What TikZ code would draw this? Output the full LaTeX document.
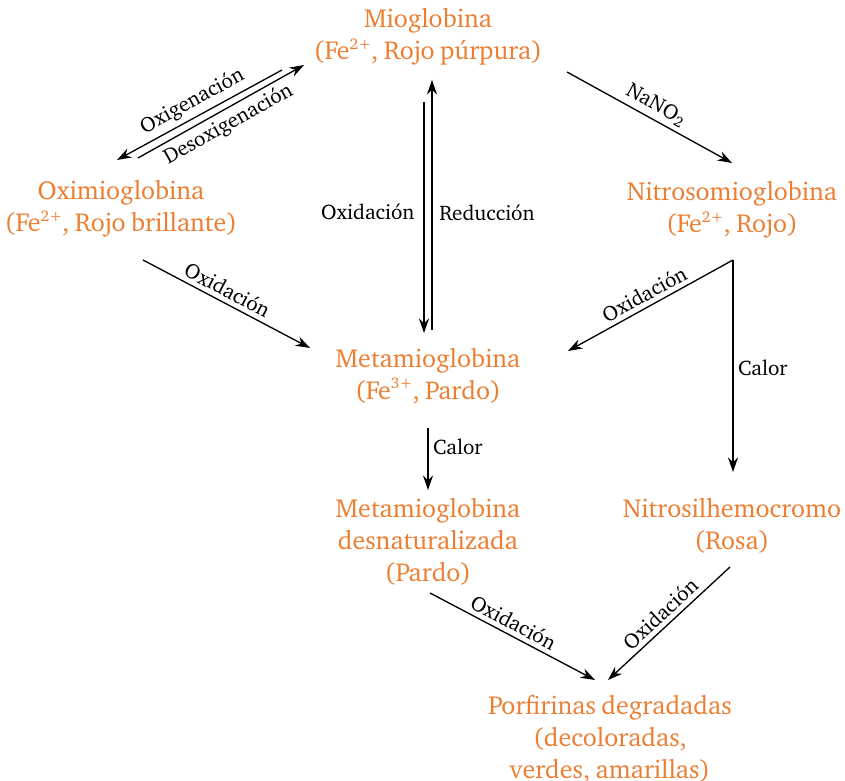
\documentclass[tikz,border=0pt]{standalone}
\usepackage[T1]{fontenc}
\usepackage{charter}
\usepackage{tikz}
\usetikzlibrary{arrows.meta}
\definecolor{naranja}{RGB}{237,125,49}
\newcommand{\carga}[1]{\raisebox{0.85ex}{\fontsize{7}{7}\selectfont #1}}
\newcommand{\fuenteesp}{\fontsize{11.7}{14.4}\selectfont\spaceskip=0.21em plus 0.1em minus 0.05em\relax}

\begin{document}
\begin{tikzpicture}[x=0.45pt,y=-0.45pt,line width=0.6pt,
    >={Stealth[length=6.5pt,width=4.5pt]},
    especie/.style={text=naranja,align=center,font=\fuenteesp},
    etiq/.style={font=\fontsize{9.5}{11}\selectfont,inner sep=2pt}]
    \useasboundingbox (0,0) rectangle (845,781);
    % especies
    \node[especie] (mio) at (428,37) {Mioglobina\\(Fe\carga{2+}, Rojo p\'urpura)};
    \node[especie] (oxi) at (121,209) {Oximioglobina\\(Fe\carga{2+}, Rojo brillante)};
    \node[especie] (nitro) at (732,210) {Nitrosomioglobina\\(Fe\carga{2+}, Rojo)};
    \node[especie] (meta) at (428,376) {Metamioglobina\\(Fe\carga{3+}, Pardo)};
    \node[especie] (desn) at (428,542) {Metamioglobina\\desnaturalizada\\(Pardo)};
    \node[especie] (nitrosil) at (732,526) {Nitrosilhemocromo\\(Rosa)};
    \node[especie] (porf) at (610,739) {Porfirinas degradadas\\(decoloradas,\\verdes, amarillas)};
    % oxigenacion
    \draw[<-] ([shift={(-4,-49)}]oxi.center) -- node[etiq,sloped,above] {Oxigenaci\'on} ([shift={(-146,33)}]mio.center);
    \draw[->] ([shift={(17,-51)}]oxi.center) -- node[etiq,sloped,below] {Desoxigenaci\'on} ([shift={(-124,28)}]mio.center);
    % oxidacion / reduccion
    \draw[->] ([shift={(-4,65)}]mio.center) -- node[etiq,left=2pt,pos=0.476] {Oxidaci\'on} ([shift={(-4,-43)}]meta.center);
    \draw[->] ([shift={(4,-46)}]meta.center) -- node[etiq,right=1pt,pos=0.47] {Reducci\'on} ([shift={(4,43)}]mio.center);
    \draw[->] ([shift={(139,35)}]mio.center) -- node[etiq,sloped,above] {NaNO\textsubscript{2}} ([shift={(0,-47)}]nitro.center);
    \draw[->] ([shift={(22,51)}]oxi.center) -- node[etiq,sloped,above,pos=0.47] {Oxidaci\'on} ([shift={(-118,-28)}]meta.center);
    \draw[<-] ([shift={(140,-25)}]meta.center) -- node[etiq,sloped,above] {Oxidaci\'on} ([shift={(1,50)}]nitro.center);
    \draw[->] ([shift={(1,50)}]nitro.center) -- node[etiq,right,pos=0.51] {Calor} ([shift={(1,-54)}]nitrosil.center);
    \draw[->] ([shift={(0,52)}]meta.center) -- node[etiq,right,pos=0.31] {Calor} ([shift={(0,-52)}]desn.center);
    % degradacion
    \draw[->] ([shift={(2,51)}]desn.center) -- node[etiq,sloped,above,pos=0.47] {Oxidaci\'on} ([shift={(-15,-59)}]porf.center);
    \draw[<-] ([shift={(-2,-59)}]porf.center) -- node[etiq,sloped,above] {Oxidaci\'on} ([shift={(-2,41)}]nitrosil.center);
\end{tikzpicture}
\end{document}
